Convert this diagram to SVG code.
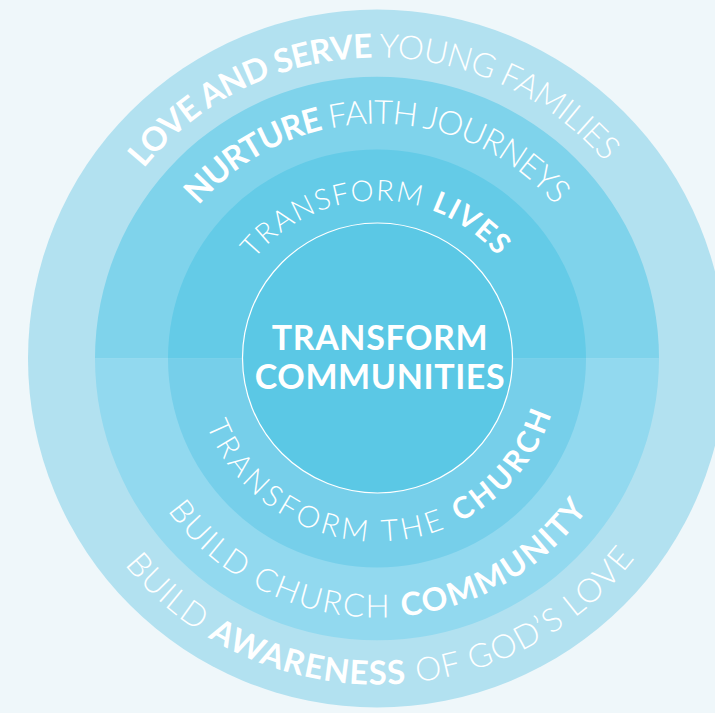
<svg xmlns="http://www.w3.org/2000/svg" xmlns:xlink="http://www.w3.org/1999/xlink" width="715" height="713" viewBox="0 0 715 713">
<style>
  text { font-family: Lato, "Liberation Sans", sans-serif; fill: #ffffff; }
  .l { font-weight: 300; }
  .b { font-weight: 700; }
  .split-top2 { fill: #7fd3eb; }
  .split-bot2 { fill: #92d9ef; }
  .split-top3 { fill: #64cbe7; }
  .split-bot3 { fill: #76cfea; }
</style>
<defs>
  <path id="p1" d="M76,358.5 A301,301 0 0 1 678,358.5"/>
  <path id="p2" d="M142,358.5 A235,235 0 0 1 612,358.5"/>
  <path id="p3" d="M219,358.5 A158,158 0 0 1 535,358.5"/>
  <path id="p4" d="M194,358.5 A183,183 0 0 0 560,358.5"/>
  <path id="p5" d="M118,358.5 A259,259 0 0 0 636,358.5"/>
  <path id="p6" d="M51,358.5 A326,326 0 0 0 703,358.5"/>
</defs>
<rect x="0" y="0" width="715" height="713" fill="#eff7fa"/>

<g id="outer-ring">
  <circle cx="377" cy="358.5" r="349" fill="#b2e1f0"/>
  <text font-size="33"><textPath xlink:href="#p1" href="#p1" startOffset="49.56%" text-anchor="middle" textLength="526" lengthAdjust="spacing"><tspan class="b">LOVE AND SERVE</tspan><tspan class="l"> YOUNG FAMILIES</tspan></textPath></text>
  <text font-size="33"><textPath xlink:href="#p6" href="#p6" startOffset="50.4%" text-anchor="middle" textLength="586" lengthAdjust="spacing"><tspan class="l">BUILD </tspan><tspan class="b">AWARENESS</tspan><tspan class="l"> OF GOD’S LOVE</tspan></textPath></text>
</g>

<g id="ring-2">
  <path class="split-top2" d="M95,358.5 A282,282 0 0 1 659,358.5 Z"/>
  <path class="split-bot2" d="M95,358.5 A282,282 0 0 0 659,358.5 Z"/>
  <text font-size="33"><textPath xlink:href="#p2" href="#p2" startOffset="50%" text-anchor="middle" textLength="405" lengthAdjust="spacing"><tspan class="b">NURTURE</tspan><tspan class="l"> FAITH JOURNEYS</tspan></textPath></text>
  <text font-size="32"><textPath xlink:href="#p5" href="#p5" startOffset="50.1%" text-anchor="middle" textLength="490" lengthAdjust="spacing"><tspan class="l">BUILD CHURCH </tspan><tspan class="b">COMMUNITY</tspan></textPath></text>
</g>

<g id="ring-3">
  <path class="split-top3" d="M168,358.5 A209,209 0 0 1 586,358.5 Z"/>
  <path class="split-bot3" d="M168,358.5 A209,209 0 0 0 586,358.5 Z"/>
  <text font-size="29"><textPath xlink:href="#p3" href="#p3" startOffset="49.6%" text-anchor="middle" textLength="278" lengthAdjust="spacing"><tspan class="l">TRANSFORM </tspan><tspan class="b">LIVES</tspan></textPath></text>
  <text font-size="30"><textPath xlink:href="#p4" href="#p4" startOffset="51%" text-anchor="middle" textLength="450" lengthAdjust="spacing"><tspan class="l">TRANSFORM THE </tspan><tspan class="b">CHURCH</tspan></textPath></text>
</g>

<g id="core">
  <circle cx="377.5" cy="358" r="135" fill="#5bc8e5" stroke="#ffffff" stroke-width="1.2"/>
  <text class="b" font-size="34" x="380" y="350" text-anchor="middle" letter-spacing="0.6">TRANSFORM</text>
  <text class="b" font-size="34" x="380" y="389" text-anchor="middle" letter-spacing="0.6">COMMUNITIES</text>
</g>
</svg>
